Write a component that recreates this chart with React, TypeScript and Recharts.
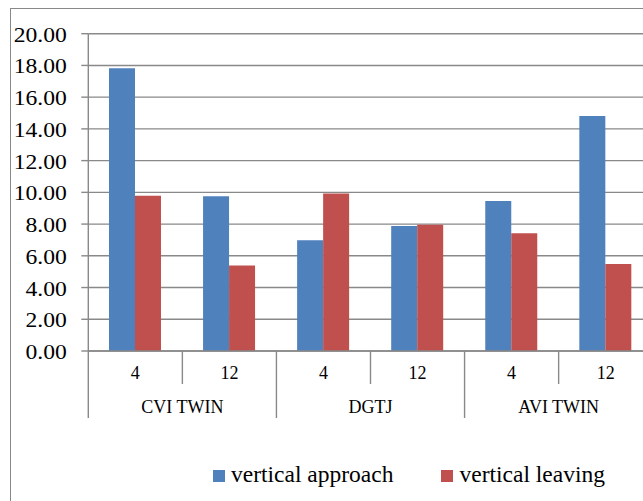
import React from 'react';
import { BarChart, Bar, XAxis, YAxis, CartesianGrid, Legend } from 'recharts';

// Two-level categories: angle group and size
const groupNames = ['CVI TWIN', 'DGTJ', 'AVI TWIN'];
const sizeLabels = ['4', '12'];

// Series values in category order (CVI 4, CVI 12, DGTJ 4, DGTJ 12, AVI 4, AVI 12)
const verticalApproach = [17.82, 9.75, 6.98, 7.88, 9.45, 14.82];
const verticalLeaving = [9.78, 5.39, 9.93, 7.96, 7.42, 5.48];

const yTicks = [0, 2, 4, 6, 8, 10, 12, 14, 16, 18, 20];

const data = groupNames.flatMap((g, gi) =>
  sizeLabels.map((s, si) => {
    const i = gi * sizeLabels.length + si;
    return {
      key: `${g}-${s}`,
      group: g,
      size: s,
      first: si === 0,
      last: i === groupNames.length * sizeLabels.length - 1,
      approach: verticalApproach[i],
      leaving: verticalLeaving[i],
    };
  })
);

const CHART_W = 690;
const CHART_H = 520;
const MARGIN = { top: 33.7, right: 37.3, left: 10, bottom: 99 };
const Y_AXIS_W = 78.3;
const X_AXIS_H = 70;
const PLOT_W = CHART_W - MARGIN.left - MARGIN.right - Y_AXIS_W;
const HALF_BAND = PLOT_W / data.length / 2;

const SERIF = "'Times New Roman', 'Liberation Serif', 'Noto Serif', 'FreeSerif', 'Nimbus Roman', 'DejaVu Serif', Georgia, serif";
const AXIS_GRAY = '#898989';

const YTick = (props: any) => {
  const { x, y, payload } = props;
  return (
    <text
      transform={`translate(${x},${y}) scale(1.18,1)`}
      textAnchor="end"
      dy="0.4em"
      fontSize={20}
      fontFamily={SERIF}
      fill="#000"
    >
      {Number(payload.value).toFixed(2)}
    </text>
  );
};

const XTick = (props: any) => {
  const { x, y, payload, index } = props;
  const row = data[index] ?? data.find((d) => d.key === payload.value);
  if (!row) return null;
  const left = x - HALF_BAND;
  const right = x + HALF_BAND;
  return (
    <g>
      <line
        x1={left}
        x2={left}
        y1={y}
        y2={y + (row.first ? 67 : 33)}
        stroke={AXIS_GRAY}
        strokeWidth={1.4}
      />
      {row.last && (
        <line x1={right} x2={right} y1={y} y2={y + 67} stroke={AXIS_GRAY} strokeWidth={1.4} />
      )}
      <text x={x} y={y + 28} textAnchor="middle" fontSize={18} fontFamily={SERIF} fill="#000">
        {row.size}
      </text>
      {row.first && (
        <text x={right} y={y + 62.3} textAnchor="middle" fontSize={18} fontFamily={SERIF} fill="#000">
          {row.group}
        </text>
      )}
    </g>
  );
};

const LegendContent = (props: any) => {
  const { payload } = props;
  return (
    <div style={{ display: 'flex', gap: 48, alignItems: 'center', height: 28 }}>
      {(payload || []).map((p: any) => (
        <div key={p.value} style={{ display: 'flex', alignItems: 'center' }}>
          <span
            style={{
              display: 'inline-block',
              width: 12,
              height: 12,
              background: p.color,
              marginRight: 6,
              marginTop: 3,
            }}
          />
          <span style={{ fontFamily: SERIF, fontSize: 23.5, lineHeight: '28px', color: '#000' }}>
            {p.value}
          </span>
        </div>
      ))}
    </div>
  );
};

export default function App() {
  return (
    <div
      style={{
        position: 'fixed',
        left: 0,
        top: 0,
        width: 643,
        height: 501,
        overflow: 'hidden',
        background: '#fff',
        fontFamily: SERIF,
      }}
    >
      <div
        style={{
          position: 'absolute',
          left: 9.5,
          top: 7.5,
          width: 720,
          height: 600,
          border: `1.5px solid ${AXIS_GRAY}`,
          boxSizing: 'border-box',
        }}
      />
      <BarChart
        width={CHART_W}
        height={CHART_H}
        data={data}
        margin={MARGIN}
        barCategoryGap="22%"
        barGap={0}
      >
        <CartesianGrid vertical={false} stroke={AXIS_GRAY} strokeWidth={1.4} />
        <XAxis
          dataKey="key"
          height={X_AXIS_H}
          tickLine={false}
          tickSize={0}
          tickMargin={0}
          interval={0}
          axisLine={{ stroke: AXIS_GRAY, strokeWidth: 1.4 }}
          tick={<XTick />}
        />
        <YAxis
          width={Y_AXIS_W}
          domain={[0, 20]}
          ticks={yTicks}
          interval={0}
          tickSize={7}
          tickMargin={14.5}
          tickLine={{ stroke: AXIS_GRAY, strokeWidth: 1.4 }}
          axisLine={{ stroke: AXIS_GRAY, strokeWidth: 1.4 }}
          tick={<YTick />}
        />
        <Legend
          layout="horizontal"
          verticalAlign="middle"
          align="center"
          wrapperStyle={{ left: 213, top: 460, width: 430 }}
          content={<LegendContent />}
        />
        <Bar dataKey="approach" name="vertical approach" fill="#4F81BD" isAnimationActive={false} />
        <Bar dataKey="leaving" name="vertical leaving" fill="#C0504D" isAnimationActive={false} />
      </BarChart>
    </div>
  );
}
